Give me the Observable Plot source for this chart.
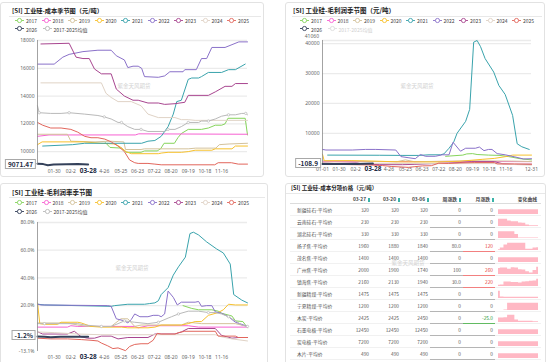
<!DOCTYPE html>
<html><head><meta charset="utf-8">
<script src="https://cdn.jsdelivr.net/npm/d3@7"></script>
<script src="https://cdn.jsdelivr.net/npm/@observablehq/plot@0.6"></script>
<style>
body{margin:0;background:#fff;font-family:"Noto Sans CJK SC","Noto Sans",sans-serif;}
#root{position:relative;width:550px;height:362px;overflow:hidden;background:#fff;}
.panel{position:absolute;border:1px solid #e2e2e2;border-radius:3px;box-sizing:border-box;}
.title{position:absolute;font-weight:bold;font-size:6.5px;color:#222;white-space:nowrap;transform:translateY(-50%);}
.sep{position:absolute;height:1px;background:#e8e8e8;}
.leg{position:absolute;font-size:5px;color:#444;white-space:nowrap;display:flex;align-items:center;transform:translateY(-50%);}
.leg svg{margin-right:2px;}
.box{position:absolute;border:1px solid #a8a8a8;background:#fff;font-weight:bold;font-size:6.5px;color:#1d2b44;padding:0 2px;line-height:8px;transform:translate(-100%,-50%);white-space:nowrap;}
.wm{position:absolute;font-size:5.5px;color:#d2d2d2;white-space:nowrap;transform:translate(-50%,-50%);}
.plot{position:absolute;}
.t{position:absolute;font-size:4.8px;color:#555;white-space:nowrap;transform:translateY(-50%);}
.mx{position:absolute;font-size:5px;line-height:6px;color:#666;white-space:nowrap;text-align:right;z-index:5;font-family:"Noto Sans",sans-serif;}
.r{text-align:right;}
</style></head><body><div id="root"></div>
<script>
// ---------- shared ----------
const seriesNames = ["2017","2018","2019","2020","2021","2022","2023","2024","2025","2026","2017-2025均值"];
const seriesColors = ["#86d45c","#f761d2","#d4c29b","#f7c12c","#39a3ac","#8a71c9","#a8458f","#e0d3c6","#e2665c","#34415a","#b9b9b9"];
const xTickDays = [29,58,116,145,174,203,232,262,291,320];
const xTickLabels = ["01-30","02-2","4-26","05-25","06-23","07-22","08-20","09-19","10-18","11-16"];
const xTickDaysFull = [0,29,58,116,145,174,203,232,262,291,320,365];
const xTickLabelsFull = ["01-01","01-30","02-2","4-26","05-25","06-23","07-22","08-20","09-19","10-18","11-16","12-31"];
const hoverDay = 88, hoverLabel = "03-28";
const watermark = "紫金天风期货";

// ---------- chart 1: cost (元/吨), [day, value] ----------
const cost2017 = [[118,10650],[126,10300],[146,10250],[154,9950],[180,9950],[186,10050],[208,10050],[214,10200],[220,10600],[238,10600],[244,11000],[250,11300],[262,11600],[285,11600],[297,11700],[309,11900],[320,11900],[326,12000],[331,12400],[361,12400],[365,11200]];
const cost2018 = [[0,11100],[20,11200],[170,11200],[176,11280],[365,11250]];
const cost2019 = [[0,11250],[52,11250],[58,10750],[100,10700],[125,10750],[150,10700],[153,10150],[180,10150],[186,10200],[262,10200],[275,10250],[310,10250],[316,10500],[333,10550],[365,10600]];
const cost2020 = [[0,10500],[8,10700],[80,10700],[110,10600],[135,10550],[145,10300],[154,10000],[163,9850],[210,9850],[216,9900],[227,9950],[250,9950],[262,10000],[274,10100],[303,10100],[309,10200],[338,10200],[344,10400],[365,10400]];
const cost2021 = [[9,10400],[61,10500],[82,10600],[181,10600],[192,10750],[204,10800],[215,11100],[227,11800],[236,12700],[242,13600],[250,13700],[262,15200],[268,15300],[280,15300],[285,15400],[297,15700],[320,15700],[332,15900],[344,15900],[361,16300]];
const cost2022 = [[0,16300],[29,16300],[44,16800],[55,17000],[79,17200],[105,17300],[128,17300],[137,16900],[151,16600],[157,16050],[166,16150],[175,16150],[181,16000],[186,15400],[210,15350],[221,15450],[230,15750],[253,15750],[256,15900],[276,15900],[285,16700],[294,16700],[303,17500],[326,17500],[338,17700],[350,17900],[365,17900]];
const cost2023 = [[6,17750],[55,17800],[67,16800],[79,16700],[90,16700],[99,15950],[111,15600],[128,15600],[137,14500],[151,14000],[166,13700],[175,13700],[192,13500],[210,13500],[221,13400],[239,13450],[256,13550],[262,14050],[297,14050],[309,14300],[326,14700],[338,14700],[344,14900],[365,14900]];
const cost2024 = [[6,14950],[111,14950],[119,14200],[128,13900],[140,13600],[163,13600],[180,13300],[192,12700],[210,12450],[239,12450],[250,12300],[262,12300],[274,12250],[365,12250]];
const cost2025 = [[0,12100],[9,11900],[23,11700],[41,11700],[58,11600],[70,11400],[82,11100],[93,11000],[105,11000],[117,10900],[128,10700],[140,10400],[151,10000],[160,9400],[169,9200],[175,9150],[192,9150],[204,9100],[215,9050],[308,9050],[314,9200],[337,9200],[349,9100],[365,9100]];
const cost2026 = [[0,9130],[10,9100],[18,9020],[28,9080],[50,9090],[70,9100],[88,9071.47]];
const costAvg = [[0,13300],[3,12800],[23,12750],[41,12750],[55,12800],[82,12700],[105,12600],[116,12500],[128,12350],[140,12100],[146,12100],[157,11800],[169,11600],[180,11600],[192,11450],[221,11450],[227,11600],[239,11600],[250,11800],[262,12100],[280,12100],[285,12200],[297,12200],[309,12350],[320,12550],[332,12650],[344,12650],[355,12750],[362,12750],[365,12650]];
const costTicks = [18000,16000,14000,12000,10000];
const costHover = 9071.47;

// ---------- chart 2: gross profit (元/吨) ----------
const profit2017 = [[215,2300],[245,2700],[252,3100],[262,3200],[270,2900],[290,2700],[310,2600],[325,2200],[345,1500],[365,1100]];
const profit2018 = [[0,500],[60,550],[150,500],[220,600],[300,550],[365,500]];
const profit2019 = [[0,800],[50,750],[90,550],[130,500],[145,1100],[160,500],[220,650],[260,800],[330,700],[365,550]];
const profit2020 = [[0,3000],[3,800],[50,850],[90,700],[130,450],[200,400],[240,650],[280,1300],[300,1600],[320,2200],[332,2700],[365,2700]];
const profit2021 = [[9,2700],[100,2650],[139,2600],[168,2600],[186,2800],[206,2800],[212,3100],[221,5000],[229,7000],[235,10000],[250,14000],[257,18000],[264,40500],[270,41060],[276,39000],[284,35000],[299,30500],[308,26000],[319,23000],[332,16000],[340,6500],[348,5500],[361,4600]];
const profit2022 = [[0,4600],[6,4400],[52,4400],[75,4600],[93,4600],[128,4400],[137,2200],[151,1800],[162,1500],[171,2900],[180,2300],[197,2300],[209,2800],[221,2800],[228,7000],[241,4000],[250,5000],[267,5000],[274,5400],[282,4200],[290,4600],[296,4600],[305,3200],[319,2800],[336,2100],[351,1400],[365,1500]];
const profit2023 = [[0,100],[20,-100],[60,100],[70,-300],[100,-500],[140,-500],[160,-400],[200,-100],[240,200],[260,500],[300,500],[315,-200],[335,-400],[365,-350]];
const profit2024 = [[0,100],[50,-100],[200,-150],[300,-150],[320,-350],[340,-500],[365,-650]];
const profit2025 = [[0,-400],[40,-450],[80,-600],[105,-800],[120,-1100],[150,-1400],[160,-1200],[175,-900],[190,-850],[203,0],[220,-100],[240,100],[265,200],[300,200],[305,-250],[335,-250],[365,-350]];
const profit2026 = [[0,-250],[15,-280],[30,-260],[60,-250],[88,-108.9]];
const profitTicks = [40000,30000,20000,10000];
const profitMax = 41060;
const profitGrid = [41060,40000,30000,20000,10000];
const profitHover = -108.9;

// ---------- chart 3: gross margin (%) ----------
const margin2017 = [[253,20],[268,18],[280,17],[303,17],[314,16],[320,14.5],[338,12.5],[344,9],[357,8.5],[365,4]];
const margin2018 = [[0,4.5],[52,4.5],[58,5.5],[70,5],[169,5],[175,4],[192,5.5],[262,5.5],[280,4.5],[365,4.5]];
const margin2019 = [[0,7.5],[52,7.5],[70,6],[87,5],[128,5],[145,10.5],[157,10.5],[169,5],[180,6],[250,6],[262,8],[285,7],[344,7],[365,5]];
const margin2020 = [[0,22],[4,7],[12,6.5],[35,6.5],[41,8],[70,8],[76,7.5],[93,5],[111,4.5],[146,4.5],[157,4],[192,4],[204,4.5],[215,6],[250,6],[262,7],[274,8.5],[285,8.5],[297,13],[314,15],[323,17],[332,21],[344,20.5],[365,20.5]];
const margin2021 = [[1,21],[12,20.5],[128,19.5],[134,20],[157,21],[186,21],[195,21.5],[204,22],[210,23.5],[215,28],[227,33],[236,42],[245,48],[257,55],[265,72],[271,73],[280,71],[294,66],[311,61],[323,58],[335,50],[341,28],[355,24],[365,22]];
const margin2022 = [[1,21],[6,20.5],[122,20],[128,19.5],[137,10.5],[151,9],[157,7.5],[163,10],[169,14],[178,12],[192,12],[201,13],[210,13],[215,12],[221,14],[227,30.5],[236,26],[243,20.5],[250,22.5],[274,22.5],[280,23],[285,19.5],[294,20],[303,20],[309,15.5],[320,14.5],[332,12],[344,8],[355,6.5],[365,5]];
const margin2023 = [[1,1],[9,-0.5],[52,-0.5],[64,1.5],[76,-2.5],[87,-3.5],[99,-3.5],[111,-2],[128,-2],[140,-4],[157,-3],[192,-3],[204,-0.5],[239,-0.5],[250,1],[262,3.5],[309,3.5],[320,-1.5],[338,-3.5],[349,-3],[365,-3]];
const margin2024 = [[0,1],[30,0.5],[70,-0.5],[110,-1],[309,-1],[320,-2.5],[338,-4],[365,-5.5]];
const margin2025 = [[1,-3.5],[23,-4],[52,-4],[76,-4.5],[93,-5],[105,-5.5],[111,-7],[122,-9],[131,-11],[140,-10.5],[153,-12.5],[160,-9.5],[169,-8],[180,-7.5],[192,-7.5],[201,-5],[208,0],[215,-0.5],[239,-0.5],[245,0.5],[256,1.5],[309,1.5],[314,-2],[344,-2],[349,-3],[365,-3]];
const margin2026 = [[0,-2.3],[12,-2.4],[23,-2.8],[40,-2.5],[60,-2.5],[88,-2.4]];
const marginAvg = [[0,7],[12,7],[70,7],[82,6],[111,5],[128,5],[140,7],[151,9],[169,8],[192,7],[210,8],[227,11],[233,12],[245,14],[262,16],[280,16],[297,15],[309,15],[320,14],[332,12],[344,9],[355,6],[365,5]];
const marginTicks = [80,60,40,20,-13.1];
const marginGrid = [80,60,40,20];
const marginHover = -1.2;

// ---------- table ----------
const tblTitle = "[SI] 工业硅-成本分项价格（元/吨）";
const tblHeads = ["03-27","03-20","03-06","周涨跌","月涨跌"];
const tblSparkHead = "变化曲线";
const tblNames = ["新疆硅石-平均价","云南硅石-平均价","湖北硅石-平均价","扬子焦-平均价","茂名焦-平均价","广州焦-平均价","镇海焦-平均价","新疆精煤-平均价","宁夏精煤-平均价","木炭-平均价","石墨电极-平均价","炭电极-平均价","木片-平均价"];
const tblCol1 = [320,230,330,1960,1400,2000,2160,1475,1200,2425,12450,7200,490];
const tblCol2 = [320,230,330,1880,1400,1900,2130,1475,1200,2425,12450,7200,490];
const tblCol3 = [320,230,330,1840,1400,1740,1940,1475,1200,2450,12450,7200,490];
const tblWeek = [0,0,0,80,0,100,30,0,0,0,0,0,0];
const tblMonth = [0,0,0,120,0,260,220,0,0,-25,0,0,0];
const spark = [
 [0.6,0.6,0.6,0.6,0.6,0.6,0.6,0.6,0.6,0.6,0.6,0.6],
 [0.9,0.9,0.9,0.7,0.6,0.6,0.45,0.4,0.2,0.1,0.1,0.1],
 [0.85,0.85,0.85,0.85,0.85,0.5,0.05,0.05,0.05,0.05,0.05,0.05],
 [0.1,0.3,0.7,0.9,0.9,0.9,0.9,0.9,0.15,0.15,0.3,0.35],
 [0.6,0.6,0.6,0.6,0.6,0.6,0.6,0.6,0.6,0.6,0.6,0.6],
 [0.75,0.8,0.8,0.65,0.85,0.8,0.6,0.55,0.35,0.2,0.5,0.9],
 [0.15,0.2,0.55,0.55,0.5,0.5,0.45,0.55,0.6,0.65,0.7,0.9],
 [0.9,0.2,0.15,0.15,0.15,0.15,0.15,0.15,0.15,0.15,0.15,0.15],
 [0,0,0.05,0.9,0.9,0.9,0.9,0.9,0.9,0.9,0.9,0.9],
 [0.55,0.55,0.6,0.9,0.9,0.3,0.15,0.15,0.15,0.15,0.1,0.1],
 [0.6,0.6,0.6,0.6,0.6,0.6,0.6,0.6,0.6,0.6,0.6,0.6],
 [0.6,0.6,0.6,0.6,0.6,0.6,0.6,0.6,0.6,0.6,0.6,0.6],
 [0.6,0.6,0.6,0.6,0.6,0.6,0.6,0.6,0.6,0.6,0.6,0.6]
];

// ---------- helpers ----------
const root = document.getElementById("root");
function el(cls, css, text){const d=document.createElement("div");d.className=cls;Object.assign(d.style,css);if(text!==undefined)d.textContent=text;root.appendChild(d);return d;}
function panel(x,y,w,h){el("panel",{left:x+"px",top:y+"px",width:w+"px",height:h+"px"});}
function legend(x0,y1,y2,avgOff){
  seriesNames.forEach((n,i)=>{
    const row=i<9?0:1, col=i<9?i:i-9;
    const x=x0+col*(row?27.5:26.5), y=row?y2:y1;
    const off = avgOff && i===10;
    const c = off?"#dcdcdc":seriesColors[i];
    const d=el("leg",{left:x+"px",top:y+"px",color:off?"#cfcfcf":"#444"});
    d.innerHTML=`<svg width="9" height="6"><line x1="0" x2="9" y1="3" y2="3" stroke="${c}" stroke-width="0.9"/><circle cx="4.5" cy="3" r="2.1" fill="#fff" stroke="${c}" stroke-width="0.9"/></svg>`;
    const s=document.createElement("span");s.textContent=n;d.appendChild(s);
  });
}
function drawChart(o){
  const marks=[Plot.ruleY(o.grid,{stroke:"#ebebeb",strokeWidth:1.3})];
  o.series.forEach((data,i)=>{
    if(!data) return;
    marks.push(Plot.line(data,{x:d=>d[0],y:d=>d[1],stroke:seriesColors[i],strokeWidth:i===9?2:1,strokeLinejoin:"round"}));
    if(i===10) marks.push(Plot.dot(data.filter((d,j)=>j%3===1),{x:d=>d[0],y:d=>d[1],r:1.2,stroke:seriesColors[i],fill:"#fff",strokeWidth:0.7}));
  });
  marks.push(Plot.ruleX([0],{stroke:"#8c8c8c",strokeWidth:0.8}));
  marks.push(Plot.text([{d:hoverDay,t:hoverLabel}],{x:"d",text:"t",frameAnchor:"bottom",dy:7,fontWeight:"bold",fontSize:6.5,fill:"#1d2b44"}));
  const p=Plot.plot({width:o.w,height:o.h,marginTop:o.mt,marginBottom:o.mb,marginLeft:37,marginRight:o.mr,
    x:{domain:[0,365],ticks:o.xt,tickFormat:d=>o.xl[o.xt.indexOf(d)],tickSize:0,tickPadding:4,label:null},
    y:{domain:o.yd,ticks:o.yt,tickFormat:o.yf,tickSize:0,tickPadding:3,label:null},
    style:{background:"transparent",fontSize:"5px",fontFamily:"'Noto Sans',sans-serif",color:"#666",overflow:"visible"},
    marks});
  p.classList.add("plot");p.style.left=o.x+"px";p.style.top=o.y+"px";
  root.appendChild(p);
  const ys=p.scale("y");
  if(o.max!==undefined) el("mx",{left:(o.x+4)+"px",width:"30px",top:(o.y+ys.apply(o.max)-7)+"px"},String(o.max));
  el("box",{left:(o.x+36)+"px",top:(o.y+ys.apply(o.hover))+"px"},o.hoverText);
  el("wm",{left:o.wx+"px",top:o.wy+"px"},watermark);
}

// ---------- top-left ----------
panel(0,2,264,175);
el("title",{left:"12px",top:"10px",fontSize:"6.2px"},"[SI] 工业硅-成本季节图（元/吨）");
el("sep",{left:"9px",top:"16px",width:"252px"});
legend(15,20,28.7,false);
drawChart({x:0,y:33,w:264,h:144,mt:7,mb:12,mr:17,yd:[9000,18000],yt:costTicks,yf:d=>String(d),grid:costTicks,
  xt:xTickDays,xl:xTickLabels,hover:costHover,hoverText:"9071.47",wx:134,wy:86,
  series:[cost2017,cost2018,cost2019,cost2020,cost2021,cost2022,cost2023,cost2024,cost2025,cost2026,costAvg]});

// ---------- top-right ----------
panel(285,2,260,175);
el("title",{left:"293px",top:"9.5px"},"[SI] 工业硅-毛利润季节图（元/吨）");
el("sep",{left:"292px",top:"16px",width:"250px"});
legend(300,20,28.5,true);
drawChart({x:285,y:31,w:260,h:146,mt:9,mb:14,mr:14,yd:[-108.9,profitMax],yt:profitTicks,yf:d=>String(d),grid:profitGrid,max:profitMax,
  xt:xTickDaysFull,xl:xTickLabelsFull,hover:profitHover,hoverText:"-108.9",wx:417,wy:86,
  series:[profit2017,profit2018,profit2019,profit2020,profit2021,profit2022,profit2023,profit2024,profit2025,profit2026,null]});

// ---------- bottom-left ----------
panel(0,183,268,182);
el("title",{left:"12px",top:"192px"},"[SI] 工业硅-毛利润率季节图");
el("sep",{left:"9px",top:"197px",width:"256px"});
legend(15,202,211,false);
drawChart({x:0,y:215,w:268,h:147,mt:7,mb:11,mr:21,yd:[-13.1,80],yt:marginTicks,yf:d=>d.toFixed(1)+"%",grid:marginGrid,
  xt:xTickDays,xl:xTickLabels,hover:marginHover,hoverText:"-1.2%",wx:132,wy:268,
  series:[margin2017,margin2018,margin2019,margin2020,margin2021,margin2022,margin2023,margin2024,margin2025,margin2026,marginAvg]});

// ---------- bottom-right table ----------
panel(285,183,261,182);
el("title",{left:"291px",top:"188px",fontSize:"5.5px"},tblTitle);
el("sep",{left:"286px",top:"193px",width:"259px"});
const iconX=[368,398,427,459,492];
tblHeads.forEach((h,i)=>{
  el("t",{left:(iconX[i]-40)+"px",width:"38px",top:"198px",fontWeight:"bold",color:"#444"},h).classList.add("r");
  el("",{position:"absolute",left:iconX[i]+"px",top:"198px",width:"1.6px",height:"3.5px",background:"#3bb3a8"});
});
el("t",{left:"497px",width:"40px",top:"198px",fontWeight:"bold",color:"#444"},tblSparkHead).classList.add("r");
el("sep",{left:"290px",top:"203px",width:"251px",background:"#dcdcdc"});
const numX=[369,399,428,461,493];
const fmtChg=v=>v===0?"0":(Number.isInteger(v)&&Math.abs(v)>=100?String(v):v.toFixed(1));
tblNames.forEach((n,i)=>{
  const yc=209+12*i, yb=215+12*i;
  el("t",{left:"297px",top:yc+"px"},n);
  [tblCol1[i],tblCol2[i],tblCol3[i]].forEach((v,j)=>{el("t",{left:(numX[j]-40)+"px",width:"40px",top:yc+"px"},String(v)).classList.add("r");});
  el("t",{left:(numX[3]-40)+"px",width:"40px",top:yc+"px"},fmtChg(tblWeek[i])).classList.add("r");
  const m=tblMonth[i];
  el("t",{left:(numX[4]-40)+"px",width:"40px",top:yc+"px",color:m>0?"#e8413c":m<0?"#2e9a3a":"#555"},fmtChg(m)).classList.add("r");
  el("sep",{left:"290px",top:yb+"px",width:"251px",background:"#f1f1f1"});
  el("sep",{left:"430px",top:(yb-0.5)+"px",width:"33px",height:"1.5px",background:"#b5b5b5"});
  el("sep",{left:"463px",top:(yb-0.5)+"px",width:"32px",height:"1.5px",background:m>0?"#f28080":m<0?"#62bb62":"#b5b5b5"});
  const sp=Plot.plot({width:40,height:8,margin:0,x:{axis:null},y:{axis:null,domain:[0,1]},
    style:{background:"transparent"},
    marks:[Plot.areaY(spark[i].map((v,k)=>({k,v})),{x:"k",y:"v",fill:"#ffb8c4",curve:"step"})]});
  sp.classList.add("plot");sp.style.left="498px";sp.style.top=(yb-9)+"px";
  root.appendChild(sp);
});
el("wm",{left:"408px",top:"263px"},watermark);
</script></body></html>
